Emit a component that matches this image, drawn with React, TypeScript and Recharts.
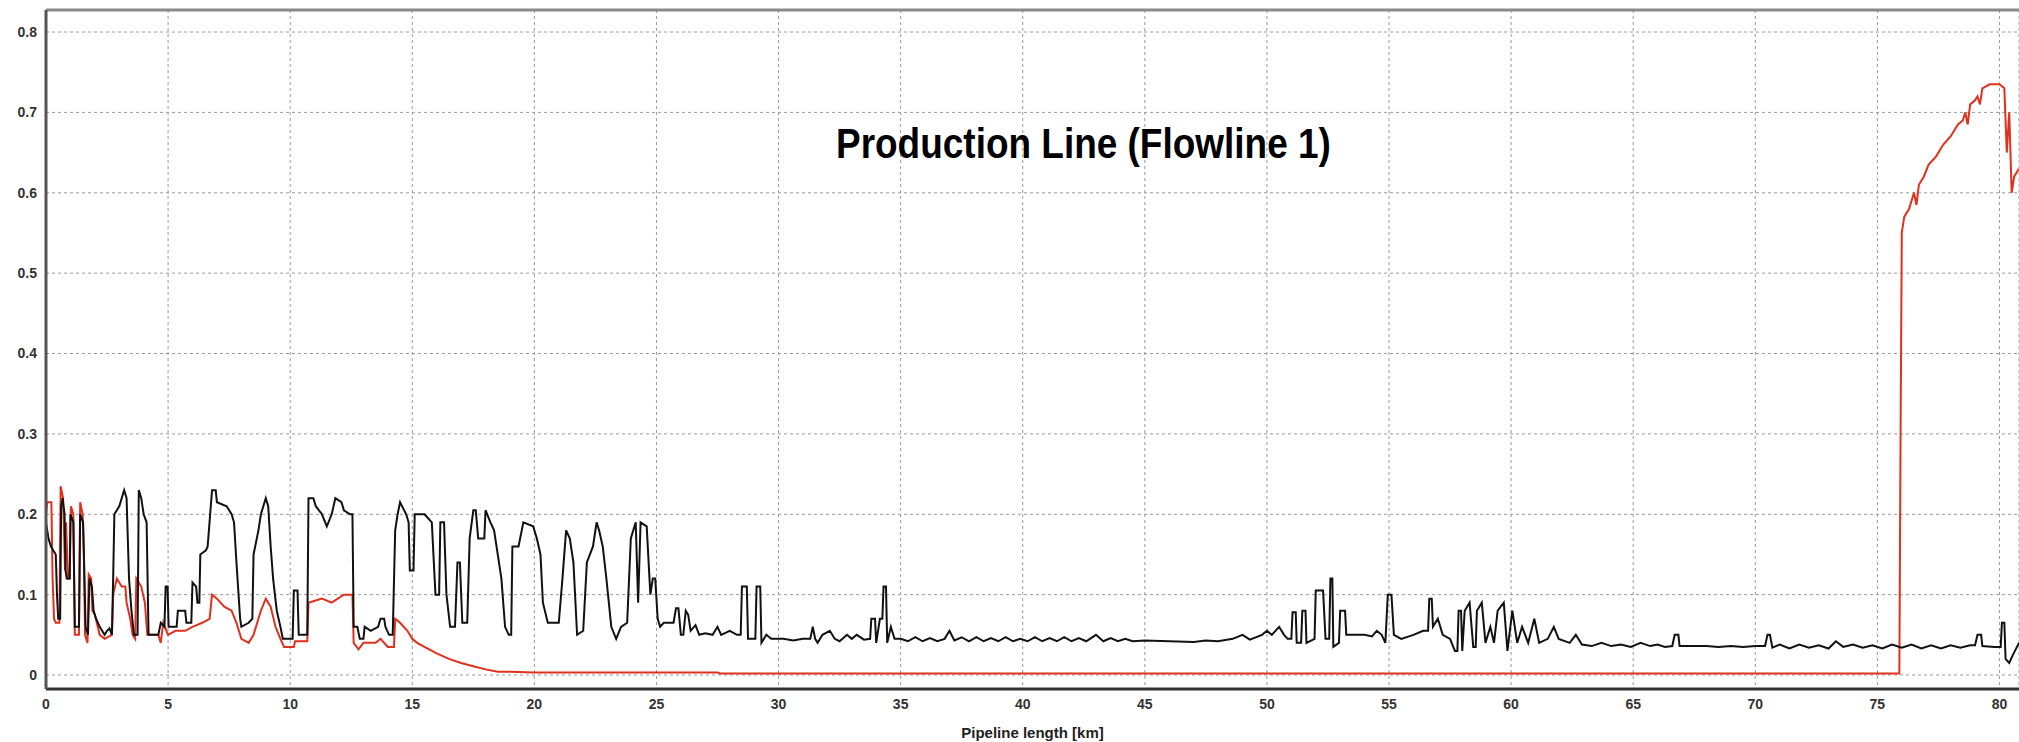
import { CartesianGrid, Line, LineChart, ReferenceLine, XAxis, YAxis } from "recharts";

// [km, value] pairs
const blackKm0to13: [number, number][] = [
  [0, 0.19], [0.1, 0.17], [0.2, 0.16], [0.4, 0.15], [0.45, 0.1], [0.5, 0.07], [0.58, 0.07], [0.62, 0.21],
  [0.68, 0.22], [0.76, 0.2], [0.8, 0.13], [0.85, 0.12], [0.97, 0.12], [1.0, 0.2], [1.12, 0.19], [1.18, 0.06],
  [1.35, 0.06], [1.4, 0.2], [1.52, 0.19], [1.56, 0.14], [1.62, 0.06], [1.72, 0.05], [1.78, 0.12], [1.88, 0.11],
  [1.95, 0.08], [2.05, 0.07], [2.2, 0.06], [2.4, 0.05], [2.5, 0.055], [2.6, 0.058], [2.7, 0.05], [2.75, 0.12],
  [2.8, 0.2], [3.0, 0.21], [3.2, 0.23], [3.3, 0.22], [3.4, 0.12], [3.5, 0.08], [3.6, 0.05], [3.75, 0.05],
  [3.8, 0.23], [3.9, 0.22], [4.0, 0.2], [4.12, 0.19], [4.2, 0.05], [4.4, 0.05], [4.6, 0.05], [4.7, 0.065],
  [4.85, 0.06], [4.9, 0.11], [4.98, 0.11], [5.02, 0.06], [5.35, 0.06], [5.4, 0.08], [5.7, 0.08], [5.75, 0.065],
  [5.95, 0.065], [6.0, 0.115], [6.15, 0.11], [6.2, 0.09], [6.28, 0.09], [6.32, 0.15], [6.55, 0.155], [6.62, 0.16],
  [6.8, 0.23], [6.95, 0.23], [7.0, 0.215], [7.4, 0.21], [7.6, 0.2], [7.7, 0.19], [7.8, 0.14], [7.95, 0.07],
  [8.0, 0.06], [8.3, 0.065], [8.45, 0.07], [8.5, 0.15], [8.7, 0.18], [8.8, 0.2], [9.0, 0.22], [9.1, 0.21],
  [9.2, 0.16], [9.3, 0.12], [9.45, 0.08], [9.6, 0.06], [9.7, 0.045], [10.1, 0.045], [10.15, 0.105], [10.3, 0.105],
  [10.35, 0.05], [10.7, 0.05], [10.75, 0.22], [10.95, 0.22], [11.05, 0.21], [11.3, 0.2], [11.5, 0.185], [11.7, 0.2],
  [11.85, 0.22], [12.1, 0.215], [12.2, 0.205], [12.45, 0.2], [12.55, 0.2], [12.6, 0.06], [12.75, 0.06],
  [12.85, 0.045], [13.0, 0.045],
];

const blackKm13to27: [number, number][] = [
  [13.05, 0.06], [13.3, 0.055], [13.6, 0.06], [13.7, 0.07], [13.85, 0.07], [13.9, 0.06], [14.05, 0.05],
  [14.2, 0.05], [14.3, 0.18], [14.4, 0.2], [14.5, 0.215], [14.75, 0.2], [14.85, 0.19], [14.9, 0.13], [15.05, 0.13],
  [15.1, 0.2], [15.5, 0.2], [15.8, 0.19], [15.95, 0.1], [16.1, 0.1], [16.15, 0.19], [16.3, 0.19], [16.4, 0.1],
  [16.55, 0.06], [16.75, 0.06], [16.85, 0.14], [16.95, 0.14], [17.05, 0.065], [17.25, 0.065], [17.35, 0.17],
  [17.5, 0.205], [17.6, 0.205], [17.7, 0.17], [17.95, 0.17], [18.0, 0.205], [18.2, 0.19], [18.35, 0.18],
  [18.5, 0.15], [18.65, 0.12], [18.8, 0.06], [18.95, 0.05], [19.05, 0.05], [19.1, 0.16], [19.35, 0.16],
  [19.55, 0.19], [19.95, 0.185], [20.1, 0.17], [20.25, 0.15], [20.35, 0.09], [20.55, 0.065], [21.0, 0.065],
  [21.15, 0.12], [21.3, 0.18], [21.45, 0.17], [21.6, 0.14], [21.75, 0.05], [22.0, 0.055], [22.15, 0.14],
  [22.4, 0.16], [22.55, 0.19], [22.65, 0.18], [22.8, 0.16], [22.95, 0.12], [23.15, 0.06], [23.35, 0.045],
  [23.55, 0.06], [23.8, 0.065], [23.95, 0.17], [24.15, 0.19], [24.25, 0.09], [24.35, 0.19], [24.6, 0.185],
  [24.75, 0.1], [24.85, 0.12], [24.95, 0.12], [25.05, 0.07], [25.15, 0.06], [25.3, 0.065], [25.7, 0.065],
  [25.8, 0.083], [25.9, 0.083], [26.0, 0.05], [26.1, 0.05], [26.2, 0.08], [26.3, 0.075], [26.4, 0.055],
  [26.6, 0.062], [26.75, 0.05], [27.0, 0.052],
];

const blackKm27to55: [number, number][] = [
  [27.3, 0.05], [27.5, 0.06], [27.65, 0.05], [28.0, 0.055], [28.3, 0.05], [28.45, 0.05], [28.5, 0.11],
  [28.7, 0.11], [28.75, 0.045], [29.05, 0.045], [29.1, 0.11], [29.25, 0.11], [29.3, 0.04], [29.5, 0.05],
  [29.7, 0.045], [30.2, 0.045], [30.6, 0.043], [31.0, 0.045], [31.3, 0.045], [31.4, 0.06], [31.5, 0.045],
  [31.6, 0.04], [31.8, 0.05], [32.1, 0.055], [32.3, 0.045], [32.5, 0.042], [32.8, 0.05], [33.0, 0.045],
  [33.2, 0.05], [33.5, 0.044], [33.75, 0.045], [33.8, 0.07], [33.95, 0.07], [34.0, 0.04], [34.15, 0.07],
  [34.25, 0.07], [34.3, 0.11], [34.4, 0.11], [34.45, 0.04], [34.6, 0.06], [34.75, 0.045], [35.0, 0.045],
  [35.3, 0.042], [35.6, 0.047], [35.9, 0.042], [36.2, 0.046], [36.5, 0.042], [36.8, 0.045], [37.0, 0.055],
  [37.2, 0.043], [37.5, 0.047], [37.8, 0.042], [38.1, 0.047], [38.4, 0.042], [38.7, 0.046], [39.0, 0.042],
  [39.3, 0.047], [39.6, 0.042], [39.9, 0.045], [40.2, 0.042], [40.5, 0.047], [40.8, 0.042], [41.1, 0.046],
  [41.4, 0.042], [41.7, 0.047], [42.0, 0.042], [42.3, 0.046], [42.6, 0.042], [43.0, 0.05], [43.3, 0.042],
  [43.6, 0.046], [43.9, 0.042], [44.2, 0.045], [44.5, 0.042], [45.0, 0.043], [46.0, 0.042], [47.0, 0.041],
  [47.5, 0.043], [48.0, 0.042], [48.6, 0.045], [49.0, 0.05], [49.3, 0.044], [49.8, 0.05], [50.0, 0.055],
  [50.2, 0.05], [50.5, 0.06], [50.7, 0.05], [50.85, 0.045], [51.0, 0.045], [51.05, 0.078], [51.18, 0.078],
  [51.22, 0.04], [51.4, 0.04], [51.45, 0.08], [51.58, 0.08], [51.62, 0.04], [51.95, 0.045], [52.0, 0.105],
  [52.3, 0.105], [52.4, 0.045], [52.55, 0.045], [52.6, 0.12], [52.68, 0.12], [52.72, 0.035], [52.95, 0.04],
  [53.0, 0.08], [53.2, 0.08], [53.25, 0.05], [53.6, 0.05], [54.0, 0.05], [54.3, 0.048], [54.5, 0.055],
  [54.7, 0.05], [54.85, 0.04],
];

const blackKm55to81: [number, number][] = [
  [54.95, 0.1], [55.1, 0.1], [55.2, 0.05], [55.5, 0.045], [56.0, 0.05], [56.4, 0.055], [56.6, 0.055],
  [56.65, 0.095], [56.75, 0.095], [56.8, 0.06], [57.0, 0.07], [57.2, 0.05], [57.5, 0.045], [57.7, 0.03],
  [57.8, 0.03], [57.85, 0.08], [57.95, 0.08], [58.0, 0.03], [58.1, 0.08], [58.3, 0.09], [58.45, 0.035],
  [58.55, 0.035], [58.6, 0.08], [58.8, 0.09], [58.95, 0.04], [59.15, 0.06], [59.3, 0.04], [59.45, 0.08],
  [59.7, 0.09], [59.85, 0.03], [60.05, 0.08], [60.25, 0.04], [60.45, 0.06], [60.7, 0.04], [60.95, 0.07],
  [61.15, 0.04], [61.5, 0.045], [61.75, 0.06], [61.95, 0.045], [62.4, 0.04], [62.65, 0.05], [62.9, 0.038],
  [63.3, 0.036], [63.7, 0.04], [64.1, 0.036], [64.5, 0.038], [64.9, 0.035], [65.3, 0.04], [65.7, 0.036],
  [66.0, 0.038], [66.3, 0.035], [66.6, 0.036], [66.7, 0.05], [66.85, 0.05], [66.9, 0.036], [67.5, 0.036],
  [68.0, 0.036], [68.5, 0.035], [69.0, 0.036], [69.5, 0.035], [70.0, 0.036], [70.4, 0.036], [70.5, 0.05],
  [70.6, 0.05], [70.7, 0.034], [71.0, 0.038], [71.4, 0.033], [71.8, 0.038], [72.2, 0.034], [72.6, 0.037],
  [73.0, 0.033], [73.3, 0.042], [73.6, 0.035], [74.0, 0.038], [74.4, 0.034], [74.8, 0.037], [75.2, 0.033],
  [75.6, 0.038], [76.0, 0.034], [76.4, 0.038], [76.8, 0.033], [77.2, 0.037], [77.6, 0.033], [78.0, 0.037],
  [78.4, 0.034], [78.8, 0.037], [79.0, 0.037], [79.1, 0.05], [79.25, 0.05], [79.3, 0.036], [79.8, 0.035],
  [80.05, 0.035], [80.1, 0.065], [80.2, 0.065], [80.25, 0.02], [80.4, 0.015], [80.55, 0.025], [80.8, 0.04],
];

const redKm0to15: [number, number][] = [
  [0, 0.2], [0.05, 0.215], [0.22, 0.215], [0.27, 0.12], [0.33, 0.07], [0.4, 0.065], [0.55, 0.065], [0.6, 0.235],
  [0.7, 0.22], [0.78, 0.13], [0.82, 0.19], [0.9, 0.12], [0.97, 0.12], [1.02, 0.21], [1.12, 0.2], [1.18, 0.05],
  [1.35, 0.05], [1.4, 0.215], [1.5, 0.2], [1.55, 0.15], [1.6, 0.05], [1.7, 0.04], [1.75, 0.125], [1.85, 0.12],
  [1.9, 0.08], [2.0, 0.075], [2.2, 0.05], [2.4, 0.045], [2.7, 0.05], [2.75, 0.1], [2.9, 0.12], [3.1, 0.11],
  [3.25, 0.11], [3.3, 0.09], [3.45, 0.07], [3.55, 0.05], [3.65, 0.045], [3.7, 0.12], [3.9, 0.11], [4.05, 0.09],
  [4.15, 0.05], [4.6, 0.05], [4.7, 0.04], [4.8, 0.065], [5.0, 0.05], [5.3, 0.055], [5.7, 0.055], [6.0, 0.06],
  [6.4, 0.065], [6.7, 0.07], [6.8, 0.1], [7.0, 0.095], [7.3, 0.085], [7.6, 0.08], [7.8, 0.065], [8.0, 0.045],
  [8.3, 0.04], [8.5, 0.05], [8.8, 0.08], [9.0, 0.095], [9.2, 0.085], [9.4, 0.06], [9.6, 0.045], [9.75, 0.035],
  [10.15, 0.035], [10.2, 0.042], [10.7, 0.042], [10.75, 0.09], [11.3, 0.095], [11.7, 0.09], [12.2, 0.1],
  [12.55, 0.1], [12.6, 0.04], [12.8, 0.032], [13.0, 0.04], [13.5, 0.04], [13.7, 0.045], [14.0, 0.035],
  [14.25, 0.035], [14.3, 0.07], [14.5, 0.065], [14.8, 0.055], [15.0, 0.045],
];

const redKm15to81: [number, number][] = [
  [15.2, 0.04], [15.5, 0.035], [16.0, 0.027], [16.5, 0.02], [17.0, 0.015], [17.5, 0.011], [18.0, 0.007],
  [18.5, 0.004], [19.0, 0.004], [20.0, 0.003], [27.5, 0.003], [27.6, 0.002], [75.9, 0.002], [75.95, 0.3],
  [76.0, 0.55], [76.1, 0.57], [76.3, 0.58], [76.5, 0.6], [76.6, 0.585], [76.7, 0.61], [76.9, 0.62],
  [77.1, 0.635], [77.4, 0.645], [77.7, 0.66], [78.0, 0.67], [78.3, 0.685], [78.5, 0.69], [78.6, 0.7],
  [78.7, 0.685], [78.8, 0.71], [79.0, 0.715], [79.1, 0.72], [79.2, 0.71], [79.3, 0.73], [79.6, 0.735],
  [80.0, 0.735], [80.2, 0.73], [80.3, 0.65], [80.4, 0.7], [80.5, 0.6], [80.6, 0.62], [80.8, 0.63],
];

const kmTicks = [0, 5, 10, 15, 20, 25, 30, 35, 40, 45, 50, 55, 60, 65, 70, 75, 80];
const valueTicks = [0, 0.1, 0.2, 0.3, 0.4, 0.5, 0.6, 0.7, 0.8];

const toPoints = (pairs: [number, number][]) => pairs.map(([km, v]) => ({ km, v }));
const blackLine = toPoints([...blackKm0to13, ...blackKm13to27, ...blackKm27to55, ...blackKm55to81]);
const redLine = toPoints([...redKm0to15, ...redKm15to81]);

const Y_MIN = -0.0174;
const Y_MAX = 0.8274;
const tickStyle = { fill: "#333", fontSize: 14, fontWeight: 700 };

export default function App() {
  return (
    <div
      style={{
        position: "absolute",
        left: 0,
        top: 0,
        width: 2019,
        height: 742,
        background: "#fff",
        fontFamily: "'Liberation Sans', Arial, sans-serif",
      }}
    >
      <LineChart width={2019} height={742} margin={{ top: 10, right: 0, left: 0, bottom: 0 }}>
        <CartesianGrid stroke="#9a9a9a" strokeDasharray="3 3" strokeWidth={1} />
        <XAxis
          type="number"
          dataKey="km"
          domain={[0, 80.8]}
          ticks={kmTicks}
          allowDataOverflow
          height={53}
          axisLine={{ stroke: "#333", strokeWidth: 3 }}
          tickLine={false}
          tickSize={0}
          tickMargin={10}
          tick={tickStyle}
          label={{
            value: "Pipeline length [km]",
            position: "insideBottom",
            offset: 4,
            fill: "#222",
            fontSize: 15,
            fontWeight: 700,
          }}
        />
        <YAxis
          type="number"
          domain={[Y_MIN, Y_MAX]}
          ticks={valueTicks}
          allowDataOverflow
          width={46}
          axisLine={{ stroke: "#555", strokeWidth: 3 }}
          tickLine={false}
          tickSize={0}
          tickMargin={9}
          tick={tickStyle}
          tickFormatter={(v: number) => (v === 0 ? "0" : v.toFixed(1))}
        />
        <ReferenceLine y={Y_MAX} stroke="#8a8a8a" strokeWidth={3} />
        <Line
          data={redLine}
          dataKey="v"
          type="linear"
          stroke="#e0301e"
          strokeWidth={2}
          dot={false}
          isAnimationActive={false}
        />
        <Line
          data={blackLine}
          dataKey="v"
          type="linear"
          stroke="#111"
          strokeWidth={2}
          dot={false}
          isAnimationActive={false}
        />
      </LineChart>
      <div
        style={{
          position: "absolute",
          left: 836,
          top: 123,
          fontSize: 42,
          lineHeight: "42px",
          fontWeight: 700,
          color: "#000",
          whiteSpace: "nowrap",
          transform: "scaleX(0.88)",
          transformOrigin: "left top",
        }}
      >
        Production Line (Flowline 1)
      </div>
    </div>
  );
}
